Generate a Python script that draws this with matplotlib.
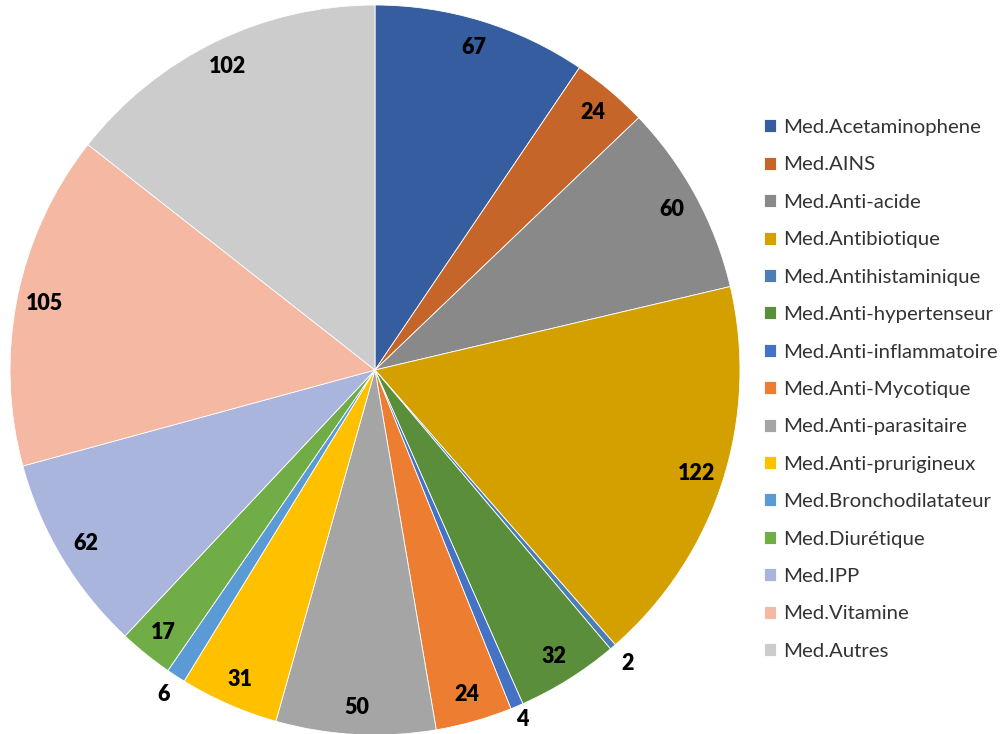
import matplotlib
matplotlib.use("Agg")
import matplotlib.pyplot as plt
import numpy as np

categories = ["Med.Acetaminophene", "Med.AINS", "Med.Anti-acide", "Med.Antibiotique",
              "Med.Antihistaminique", "Med.Anti-hypertenseur", "Med.Anti-inflammatoire",
              "Med.Anti-Mycotique", "Med.Anti-parasitaire", "Med.Anti-prurigineux",
              "Med.Bronchodilatateur", "Med.Diurétique", "Med.IPP", "Med.Vitamine", "Med.Autres"]
values = [67, 24, 60, 122, 2, 32, 4, 24, 50, 31, 6, 17, 62, 105, 102]
colors = ["#355D9F", "#C5652A", "#898989", "#D4A000", "#4C7DB3", "#5A8E3A", "#4472C4",
          "#ED7D31", "#A5A5A5", "#FFC000", "#5B9BD5", "#70AD47", "#A9B5DC", "#F4B8A3", "#CCCCCC"]
outside = {2, 4, 6}

W, H = 1004, 734
fig = plt.figure(figsize=(W / 100, H / 100), dpi=100)
cx, cy, R = 375, 370, 365
ax = fig.add_axes([(cx - R) / W, (H - cy - R) / H, 2 * R / W, 2 * R / H])

wedges, _ = ax.pie(values, colors=colors, startangle=90, counterclock=False,
                   wedgeprops=dict(edgecolor="white", linewidth=0.6))
ax.set_xlim(-1, 1)
ax.set_ylim(-1, 1)
ax.set_aspect("equal")
ax.axis("off")

for w, v in zip(wedges, values):
    ang = np.deg2rad((w.theta1 + w.theta2) / 2)
    d = (1.04 if v == 4 else 1.06) if v in outside else 0.925
    ax.text(d * np.cos(ang), d * np.sin(ang), str(v), ha="center", va="center",
            fontsize=15.5, fontweight="heavy", family="Lato", color="black")

leg = fig.legend(wedges, categories, loc="upper left",
                 bbox_to_anchor=(764 / W, 1 - 119 / H), frameon=False,
                 prop=dict(family="Lato", size=14.7), labelspacing=1.0,
                 handlelength=0.6, handleheight=0.6, handletextpad=0.35,
                 borderaxespad=0, borderpad=0)
for t in leg.get_texts():
    t.set_color("#333333")

fig.savefig("out.png", dpi=100)
